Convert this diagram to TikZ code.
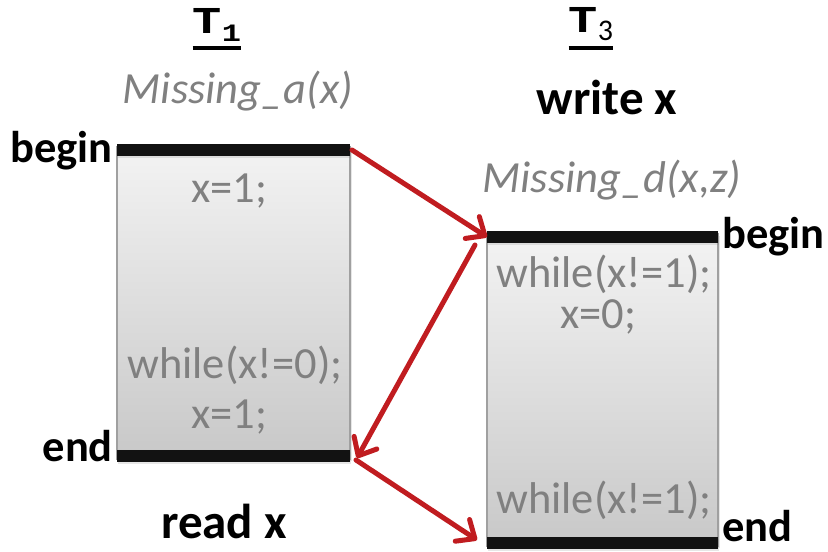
\documentclass[tikz,border=0pt]{standalone}
\usepackage{fontspec}
\setmainfont{Carlito}
\newfontfamily\monof{Liberation Mono}[FakeStretch=1.28]
\usetikzlibrary{arrows.meta,shadows}
\definecolor{txtgray}{RGB}{128,128,128}
\definecolor{arrred}{RGB}{192,28,32}
\definecolor{boxtop}{RGB}{243,243,243}
\definecolor{boxbot}{RGB}{200,200,200}
\definecolor{boxline}{RGB}{160,160,160}
\begin{document}
\begin{tikzpicture}[x=1pt,y=-1pt,
  code/.style={text=txtgray, font=\fontsize{44.5}{48}\selectfont, anchor=base, inner sep=0pt},
  miss/.style={text=txtgray, font=\fontsize{44.5}{48}\selectfont\itshape, anchor=base, inner sep=0pt},
  lab/.style={font=\fontsize{44.5}{48}\selectfont\bfseries, inner sep=0pt},
  big/.style={font=\fontsize{49}{52}\selectfont\bfseries, anchor=base, inner sep=0pt},
  ttl/.style={anchor=base, inner sep=0pt},
  box/.style={draw=boxline, line width=1.5pt, top color=boxtop, bottom color=boxbot,
    inner sep=0pt, outer sep=0pt,
    drop shadow={opacity=0.2, shadow xshift=2pt, shadow yshift=-2pt}},
  bar/.style={fill=black!93, draw=none, inner sep=0pt, outer sep=0pt,
    drop shadow={opacity=0.2, shadow xshift=1pt, shadow yshift=-2pt}},
  conn/.style={draw=arrred, line width=5pt, line cap=round,
    -{Straight Barb[length=15pt,width=26pt,round]}}
]
\useasboundingbox (0,0) rectangle (828,552);
% boxes
\node[box, minimum width=233pt, minimum height=312pt] (b1) at (233.5,303) {};
\node[box, minimum width=231pt, minimum height=312pt] (b3) at (602.5,390) {};
\node[bar, minimum width=233pt, minimum height=12pt] (b1top) at (233.5,150) {};
\node[bar, minimum width=233pt, minimum height=12pt] (b1bot) at (233.5,456) {};
\node[bar, minimum width=231pt, minimum height=12pt] (b3top) at (602.5,237) {};
\node[bar, minimum width=231pt, minimum height=12pt] (b3bot) at (602.5,543) {};
% titles
\node[ttl] (t1) at (217,33) {{\monof\bfseries\fontsize{38}{40}\selectfont T}\raisebox{-8pt}{\monof\bfseries\fontsize{25}{28}\selectfont 1}};
\draw[line width=3.5pt] ([yshift=-15pt]t1.base west) -- ([yshift=-15pt]t1.base east);
\node[ttl] (t3) at (591,32) {{\monof\bfseries\fontsize{38}{40}\selectfont T}\raisebox{-8pt}{\fontsize{30}{32}\selectfont 3}};
\draw[line width=3.5pt] ([yshift=-16pt]t3.base west) -- ([yshift=-16pt]t3.base east);
% headings
\node[miss] (ma) at (238,103) {Missing\_a(x)};
\node[big] (wx) at (607,114) {write x};
\node[miss] (md) at (612,192) {Missing\_d(x,z)};
\node[big] (rx) at (224,538) {read x};
% begin / end labels
\node[lab, anchor=base east] (beg1) at (113,162) {begin};
\node[lab, anchor=base east] (end1) at (113,461) {end};
\node[lab, anchor=base west] (beg3) at (722,248) {begin};
\node[lab, anchor=base west] (end3) at (722,541) {end};
% code
\node[code] (c11) at (229,202) {x=1;};
\node[code] (c12) at (235,378) {while(x!=0);};
\node[code] (c13) at (229,428) {x=1;};
\node[code] (c31) at (604,287) {while(x!=1);};
\node[code] (c32) at (598,328) {x=0;};
\node[code] (c33) at (604,513) {while(x!=1);};
% arrows
\draw[conn] ([xshift=2pt]b1top.east) -- (b3top.west);
\draw[conn] ([xshift=-12pt,yshift=-8pt]b3top.west) -- ([xshift=7pt,yshift=-2pt]b1bot.east);
\draw[conn] ([xshift=6pt,yshift=-4pt]b1bot.east) -- ([xshift=-10pt,yshift=3pt]b3bot.west);
\end{tikzpicture}
\end{document}
